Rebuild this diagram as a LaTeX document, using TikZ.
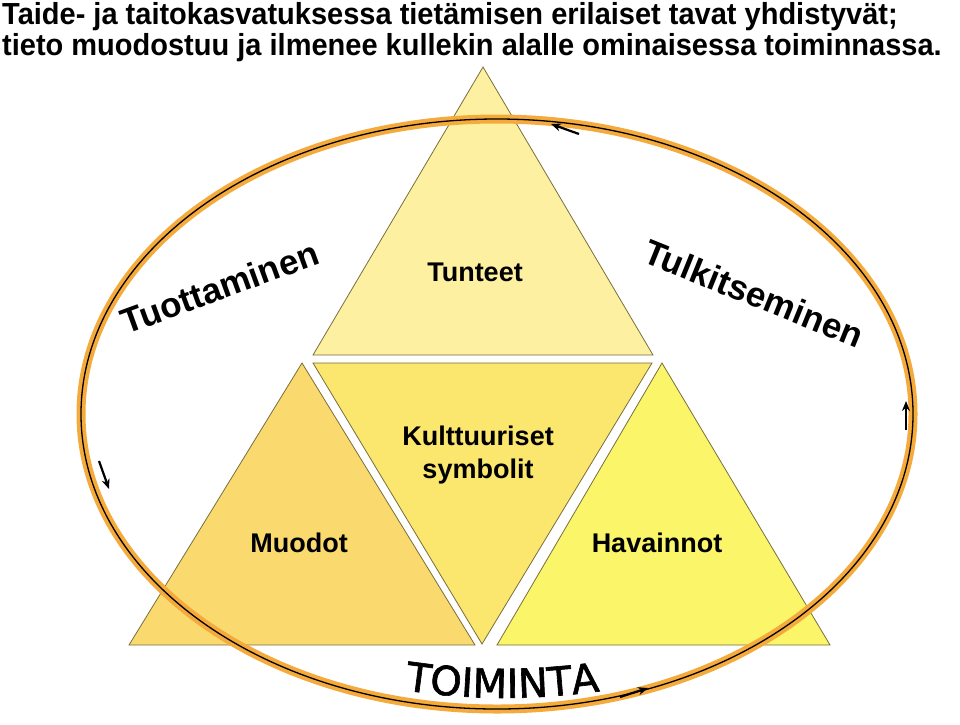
\documentclass[tikz,border=0pt]{standalone}
\usepackage{fontspec}
\setmainfont{Liberation Sans}
\newfontfamily\toifont[FakeBold=1.6]{DejaVu Sans}
\usetikzlibrary{arrows.meta,decorations.text}
\definecolor{triline}{RGB}{120,110,60}
\definecolor{topfill}{RGB}{253,240,160}
\definecolor{midfill}{RGB}{251,230,110}
\definecolor{leftfill}{RGB}{250,218,110}
\definecolor{rightfill}{RGB}{250,245,105}
\definecolor{ringorange}{RGB}{245,170,60}
\begin{document}
\begin{tikzpicture}[x=1pt,y=-1pt,
  tri/.style={draw=triline,line width=0.8pt,line join=miter},
  lbl/.style={font=\bfseries\fontsize{27}{33}\selectfont,text=black,inner sep=0pt,align=center},
  big/.style={font=\bfseries\fontsize{35}{40}\selectfont,text=black,inner sep=0pt},
  ttl/.style={font=\bfseries\fontsize{29}{33}\selectfont,text=black,inner sep=0pt,anchor=base west,yscale=1.05},
  cyc/.style={-{Stealth[length=10pt,width=8pt]},line width=2.2pt,black},
]
\useasboundingbox (0,0) rectangle (960,724);

% title
\node[ttl] (t1) at (2,24) {Taide- ja taitokasvatuksessa tietämisen erilaiset tavat yhdistyvät;};
\node[ttl] (t2) at (2,55) {tieto muodostuu ja ilmenee kullekin alalle ominaisessa toiminnassa.};

% triangles
\draw[tri,fill=topfill] (483,67) -- (653,355) -- (313,355) -- cycle;
\draw[tri,fill=midfill] (313,363) -- (652,363) -- (482,644) -- cycle;
\draw[tri,fill=leftfill] (302,363) -- (475,645) -- (129,645) -- cycle;
\draw[tri,fill=rightfill] (662,363) -- (830,645) -- (497,645) -- cycle;

% ring
\draw[ringorange,line width=9pt] (497,414) ellipse [x radius=416, y radius=295];
\draw[black,line width=1.3pt] (497,414) ellipse [x radius=416, y radius=295];

% arrows
\coordinate (a1s) at (579,134); \coordinate (a1e) at (551,124);
\coordinate (a2s) at (99,461);  \coordinate (a2e) at (109,489);
\coordinate (a3s) at (906,430); \coordinate (a3e) at (906,401);
\coordinate (a4s) at (620,697); \coordinate (a4e) at (648,688);
\draw[cyc] (a1s) -- (a1e);
\draw[cyc] (a2s) -- (a2e);
\draw[cyc] (a3s) -- (a3e);
\draw[cyc] (a4s) -- (a4e);

% labels
\node[lbl] (tun) at (475,272) {Tunteet};
\node[lbl] (kul) at (478,455) {Kulttuuriset\\symbolit};
\node[lbl] (muo) at (299,543) {Muodot};
\node[lbl] (hav) at (657,543) {Havainnot};

\node[big,anchor=base,rotate=20] (tuo) at (224,299) {Tuottaminen};
\node[big,anchor=base,rotate=-22] (tul) at (749,305) {Tulkitseminen};

% TOIMINTA along a gentle arc
\path[decorate,decoration={text along path,text align=center,
  text={|\toifont\fontsize{40}{42}\selectfont|TOIMINTA}}]
  (390,688) .. controls (470,701) and (535,701) .. (615,689);
\coordinate (toi) at (500,683);
\end{tikzpicture}
\end{document}
